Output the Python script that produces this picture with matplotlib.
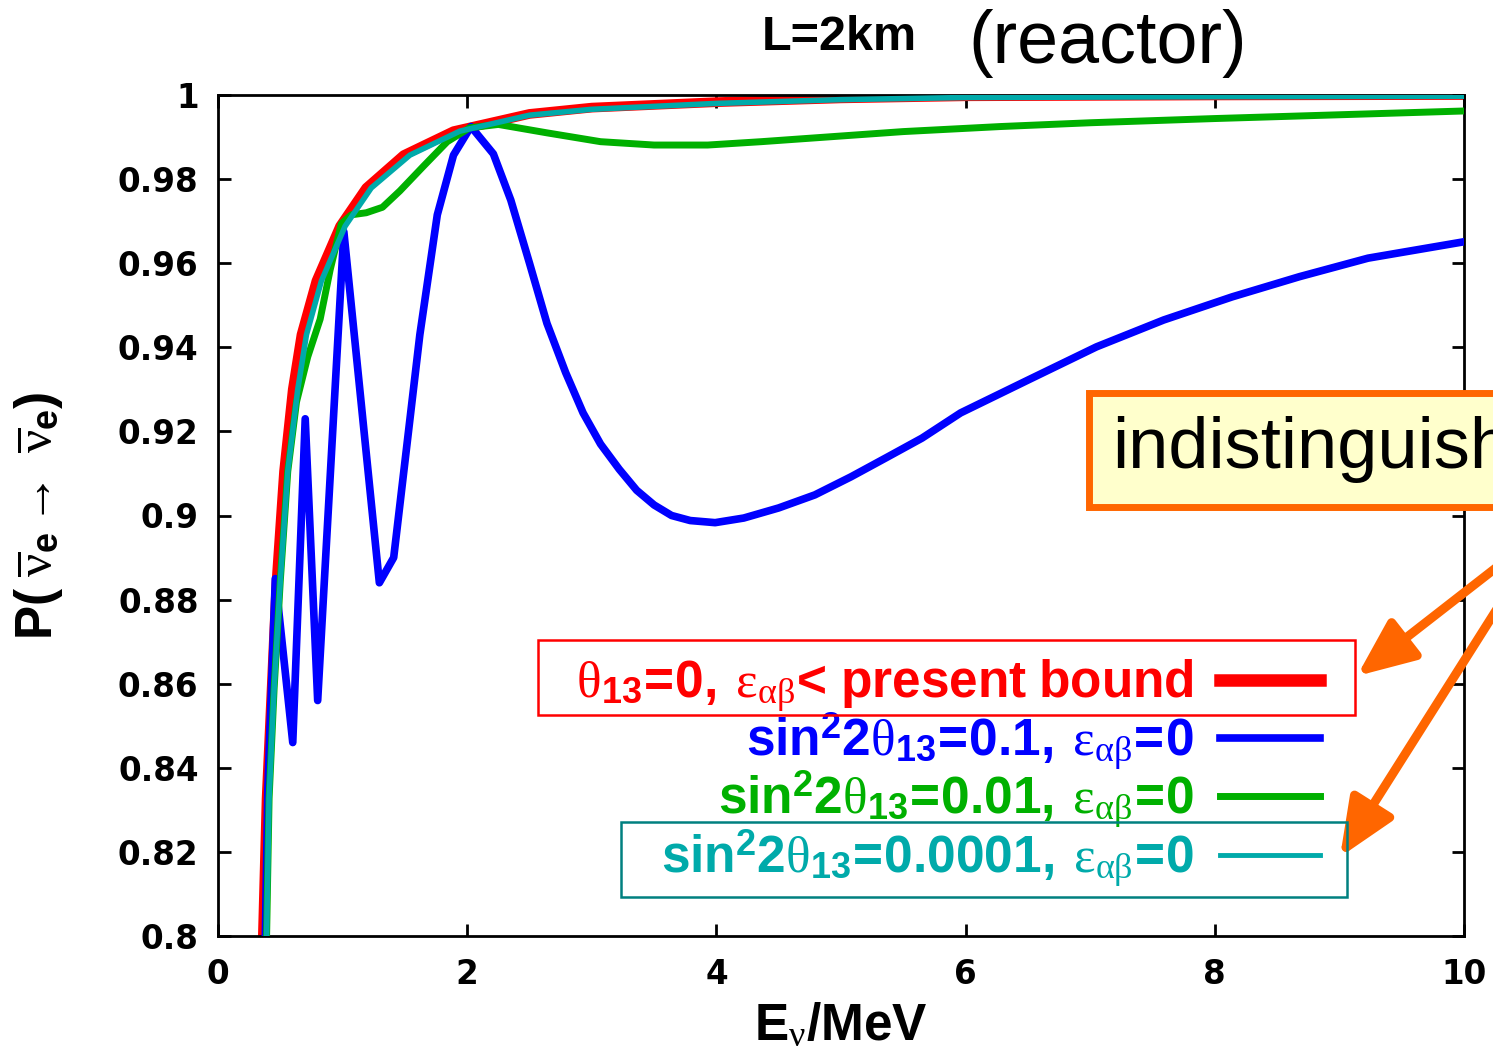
import matplotlib
matplotlib.use('Agg')
import matplotlib.pyplot as plt
from matplotlib.patches import Rectangle

# survival probability (L = 2 km)
energy_red = [0.35, 0.36, 0.39, 0.43, 0.47, 0.53, 0.60, 0.67, 0.79, 0.98, 1.19, 1.49, 1.89,
              2.5, 3.0, 4.0, 5.0, 6.0, 8.0, 10.0]
p_red = [0.79, 0.80, 0.8327, 0.8586, 0.8845, 0.9105, 0.930, 0.943, 0.9558, 0.9688, 0.9779, 0.9857,
         0.9914, 0.9955, 0.9970, 0.9983, 0.9992, 0.9997, 0.9999, 1.0]

energy_blue = [0.36, 0.38, 0.40, 0.46, 0.60, 0.70, 0.80, 1.01, 1.295, 1.41, 1.62, 1.76, 1.89, 2.03,
               2.21, 2.35, 2.50, 2.64, 2.79, 2.93, 3.07, 3.22, 3.36, 3.50, 3.64, 3.79, 3.99, 4.22,
               4.50, 4.79, 5.08, 5.36, 5.65, 5.96, 6.5, 7.05, 7.59, 8.14, 8.68, 9.23, 10.0]
p_blue = [0.79, 0.80, 0.835, 0.885, 0.846, 0.923, 0.856, 0.9675, 0.884, 0.890, 0.943, 0.9715, 0.9857,
          0.9925, 0.986, 0.975, 0.960, 0.9457, 0.934, 0.9244, 0.917, 0.911, 0.906, 0.9025, 0.900,
          0.8988, 0.8983, 0.8994, 0.9018, 0.9049, 0.9092, 0.9137, 0.9184, 0.9244, 0.9322, 0.9401,
          0.9465, 0.952, 0.9568, 0.9612, 0.9651]

energy_green = [0.37, 0.39, 0.41, 0.45, 0.50, 0.56, 0.63, 0.72, 0.82, 0.90, 0.99, 1.07, 1.19, 1.32,
                1.46, 1.65, 1.84, 2.02, 2.25, 2.64, 3.07, 3.5, 3.93, 4.36, 4.93, 5.5, 6.28, 7.0,
                8.0, 9.0, 10.0]
p_green = [0.79, 0.80, 0.8327, 0.8586, 0.8845, 0.9105, 0.927, 0.9377, 0.9467, 0.9584, 0.9694, 0.9715,
           0.972, 0.9733, 0.9772, 0.9831, 0.9889, 0.9922, 0.9930, 0.991, 0.9889, 0.9881, 0.9881,
           0.9889, 0.9901, 0.9913, 0.9925, 0.9934, 0.9944, 0.9953, 0.9962]

energy_cyan = [0.37, 0.39, 0.41, 0.45, 0.50, 0.56, 0.64, 0.71, 0.83, 1.02, 1.23, 1.54, 1.94,
               2.5, 3.0, 4.0, 5.0, 6.0, 8.0, 10.0]
p_cyan = [0.79, 0.80, 0.8327, 0.8586, 0.8845, 0.9105, 0.930, 0.943, 0.9558, 0.9688, 0.9779, 0.9857,
          0.9914, 0.9952, 0.9966, 0.9980, 0.9989, 0.9994, 0.9996, 0.9997]

# \! pulls the '=' and '<' back together, mathtext pads relations otherwise
labels = [r'$\theta_{\mathbf{13}}\!\mathbf{=}\!\mathbf{0,}\;\varepsilon_{\alpha\beta}\!\mathbf{<}\!\mathbf{\ present\ bound}$',
          r'$\mathbf{sin}^{\mathbf{2}}\mathbf{2}\theta_{\mathbf{13}}\!\mathbf{=}\!\mathbf{0.1,}\;\varepsilon_{\alpha\beta}\!\mathbf{=}\!\mathbf{0}$',
          r'$\mathbf{sin}^{\mathbf{2}}\mathbf{2}\theta_{\mathbf{13}}\!\mathbf{=}\!\mathbf{0.01,}\;\varepsilon_{\alpha\beta}\!\mathbf{=}\!\mathbf{0}$',
          r'$\mathbf{sin}^{\mathbf{2}}\mathbf{2}\theta_{\mathbf{13}}\!\mathbf{=}\!\mathbf{0.0001,}\;\varepsilon_{\alpha\beta}\!\mathbf{=}\!\mathbf{0}$']
colors = ['#FF0000', '#0000FF', '#00B000', '#00AAAA']

xticks = [0, 2, 4, 6, 8, 10]
xtick_labels = ['0', '2', '4', '6', '8', '10']
yticks = [0.8, 0.82, 0.84, 0.86, 0.88, 0.9, 0.92, 0.94, 0.96, 0.98, 1.0]
ytick_labels = ['0.8', '0.82', '0.84', '0.86', '0.88', '0.9', '0.92', '0.94', '0.96', '0.98', '1']

plt.rcParams['font.family'] = 'DejaVu Sans'
plt.rcParams['mathtext.fontset'] = 'custom'
plt.rcParams['mathtext.rm'] = 'Liberation Serif'
plt.rcParams['mathtext.it'] = 'Liberation Serif:italic'
plt.rcParams['mathtext.bf'] = 'Liberation Sans:bold'
plt.rcParams['mathtext.default'] = 'rm'

fig = plt.figure(figsize=(14.93, 10.52), dpi=100)
ax = fig.add_axes([218 / 1493, 116 / 1052, 1246 / 1493, 841 / 1052])

ax.plot(energy_red, p_red, color=colors[0], lw=7, label=labels[0], zorder=2)
ax.plot(energy_blue, p_blue, color=colors[1], lw=5.5, label=labels[1], zorder=3)
ax.plot(energy_green, p_green, color=colors[2], lw=5, label=labels[2], zorder=4)
ax.plot(energy_cyan, p_cyan, color=colors[3], lw=4, label=labels[3], zorder=5)

ax.set_xlim(0, 10)
ax.set_ylim(0.8, 1.0)
ax.set_xticks(xticks, xtick_labels)
ax.set_yticks(yticks, ytick_labels)
ax.tick_params(direction='in', length=9, width=2, top=True, right=True, labelsize=23.5)
ax.tick_params(axis='y', pad=14)
ax.tick_params(axis='x', pad=16)
for lab in ax.get_xticklabels() + ax.get_yticklabels():
    lab.set_fontweight('bold')
for sp in ax.spines.values():
    sp.set_linewidth(2)

ax.set_xlabel(r'$\mathbf{E}_{\nu}\mathbf{/MeV}$', fontsize=37, labelpad=7)
ax.set_ylabel(r'$\mathbf{P(}\ \overline{\nu}_{\mathbf{e}}\rightarrow\ \overline{\nu}_{\mathbf{e}}\mathbf{)}$',
              fontsize=37, labelpad=38)

leg = ax.legend(loc='center right', bbox_to_anchor=(0.8844, 0.193), markerfirst=False, frameon=False,
                fontsize=37, handlelength=1.95, handletextpad=0.5, labelspacing=-0.06, borderpad=0,
                borderaxespad=0, labelcolor='linecolor')
leg.get_lines()[0].set_linewidth(9)
leg.get_lines()[3].set_linewidth(3.5)

# boxes drawn round the first and last legend entries
ax.add_patch(Rectangle((0.2568, 0.2628), 0.6557, 0.0892, transform=ax.transAxes, fill=False,
                       ec='#FF0000', lw=1.8, clip_on=False, zorder=6))
ax.add_patch(Rectangle((0.3234, 0.0464), 0.5827, 0.0892, transform=ax.transAxes, fill=False,
                       ec='#008080', lw=1.8, clip_on=False, zorder=6))

fig.text(762 / 1493, 1 - 38 / 1052, 'L=2km', fontsize=35, fontweight='bold',
         family='Liberation Sans', va='center', ha='left')
fig.text(968 / 1493, 1 - 44 / 1052, '(reactor)', fontsize=53, family='Liberation Sans',
         va='center', ha='left')

fig.text(1112 / 1493, 1 - 450 / 1052, 'indistinguishable', fontsize=52, family='Liberation Sans',
         va='center', ha='left',
         bbox=dict(boxstyle='square,pad=0.32', fc='#FFFFCC', ec='#FF6600', lw=5))

arrow_kw = dict(arrowstyle='-|>,head_length=1.4,head_width=0.6', color='#FF6600', lw=6.5,
                mutation_scale=25, shrinkA=0, shrinkB=0)
ax.annotate('', xy=(1357, 1052 - 676), xycoords='figure pixels',
            xytext=(1560, 1052 - 518), textcoords='figure pixels',
            arrowprops=arrow_kw, annotation_clip=False)
ax.annotate('', xy=(1340, 1052 - 857), xycoords='figure pixels',
            xytext=(1540, 1052 - 541), textcoords='figure pixels',
            arrowprops=arrow_kw, annotation_clip=False)

plt.savefig('out.png', dpi=100)
